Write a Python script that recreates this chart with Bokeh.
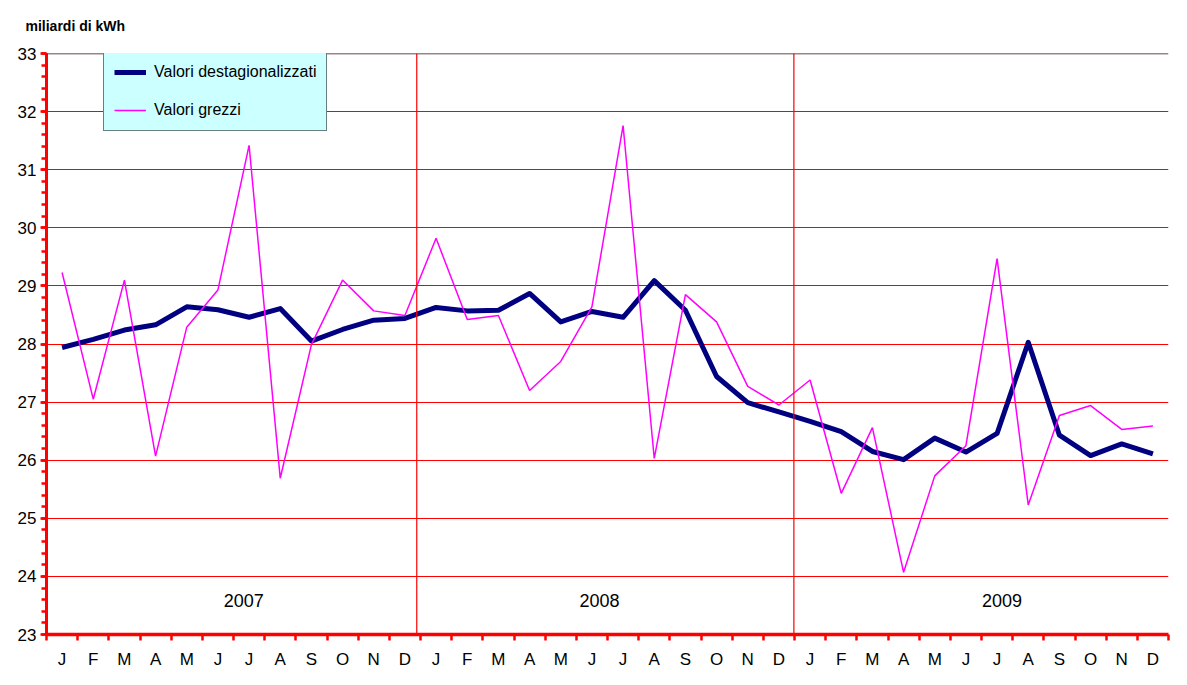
from bokeh.plotting import figure
from bokeh.models import (FixedTicker, SingleIntervalTicker, Span, Label, Legend,
                          LegendItem, Range1d, ColumnDataSource)
from bokeh.embed import file_html
from bokeh.resources import INLINE

# ---- data ----
months = ["J", "F", "M", "A", "M", "J", "J", "A", "S", "O", "N", "D"]
years = ["2007", "2008", "2009"]
destagionalizzati = [27.94, 28.08, 28.24, 28.33, 28.64, 28.59, 28.46, 28.61, 28.05, 28.25, 28.41, 28.44,
                     28.63, 28.57, 28.58, 28.87, 28.38, 28.56, 28.46, 29.09, 28.58, 27.44, 26.99, 26.83,
                     26.67, 26.49, 26.15, 26.01, 26.38, 26.14, 26.46, 28.03, 26.43, 26.08, 26.28, 26.11]
grezzi = [29.23, 27.05, 29.10, 26.07, 28.29, 28.93, 31.42, 25.69, 27.99, 29.10, 28.57, 28.49,
          29.82, 28.42, 28.49, 27.20, 27.70, 28.64, 31.76, 26.03, 28.85, 28.38, 27.27, 26.95,
          27.38, 25.43, 26.56, 24.07, 25.73, 26.25, 29.47, 25.23, 26.77, 26.94, 26.53, 26.59]
y_min, y_max = 23, 33

RED = "#FF0000"
FONT = "Liberation Sans"
FRAME_H = 581

n = len(destagionalizzati)
xs = [i + 0.5 for i in range(n)]
src = ColumnDataSource(dict(x=xs, d=destagionalizzati, g=grezzi))

p = figure(frame_width=1122, frame_height=FRAME_H, output_backend="svg", toolbar_location=None,
           x_range=Range1d(0, n), y_range=Range1d(y_min, y_max),
           min_border_left=46, min_border_right=3, min_border_top=52, min_border_bottom=30)
p.outline_line_color = None
p.background_fill_color = "white"
p.border_fill_color = "white"

# grid
p.xgrid.visible = False
p.ygrid.ticker = SingleIntervalTicker(interval=1)
p.ygrid.grid_line_color = RED
p.ygrid.grid_line_width = 1

# y axis
yax = p.yaxis[0]
yax.ticker = SingleIntervalTicker(interval=1, num_minor_ticks=5)
yax.axis_line_color = RED
yax.axis_line_width = 3
yax.major_tick_line_color = RED
yax.major_tick_line_width = 2.5
yax.major_tick_out = 6
yax.major_tick_in = 0
yax.minor_tick_line_color = RED
yax.minor_tick_line_width = 2.5
yax.minor_tick_out = 5
yax.minor_tick_in = 0
yax.major_label_text_font = FONT
yax.major_label_text_font_size = "17px"
yax.major_label_text_color = "black"
yax.major_label_standoff = 4

# x axis
xax = p.xaxis[0]
xax.ticker = FixedTicker(ticks=xs, minor_ticks=list(range(n + 1)))
xax.major_label_overrides = {xv: months[i % 12] for i, xv in enumerate(xs)}
xax.axis_line_color = RED
xax.axis_line_width = 3.5
xax.major_tick_line_color = None
xax.major_tick_out = 0
xax.major_tick_in = 0
xax.minor_tick_line_color = RED
xax.minor_tick_line_width = 2.5
xax.minor_tick_out = 6
xax.minor_tick_in = 0
xax.major_label_text_font = FONT
xax.major_label_text_font_size = "17px"
xax.major_label_text_color = "black"
xax.major_label_standoff = 9

# title (unit label)
p.title.text = "miliardi di kWh"
p.title.text_font = FONT
p.title.text_font_style = "bold"
p.title.text_font_size = "14px"
p.title.text_color = "black"
p.title.align = "left"
p.title.vertical_align = "top"
p.title.offset = -21
p.title.standoff = 35

# year separators and top border
p.add_layout(Span(location=11.88, dimension="height", line_color=RED, line_width=1.2))
p.add_layout(Span(location=23.98, dimension="height", line_color=RED, line_width=1.2))
p.add_layout(Span(location=y_max, dimension="width", line_color="#3c0a0a", line_width=1.5))

# year labels
year_pos = [6.33, 17.74, 30.66]
for yr, xp in zip(years, year_pos):
    p.add_layout(Label(x=xp, y=23.58, text=yr, text_align="center", text_baseline="middle",
                       text_font=FONT, text_font_size="18px", text_color="black"))

# series
r1 = p.line("x", "d", source=src, line_color="#000080", line_width=5, line_join="round")
r2 = p.line("x", "g", source=src, line_color="#FF00FF", line_width=1.5)

legend = Legend(items=[LegendItem(label="Valori destagionalizzati", renderers=[r1]),
                       LegendItem(label="Valori grezzi", renderers=[r2])],
                location=(57, FRAME_H - 78))
legend.background_fill_color = "#CCFFFF"
legend.background_fill_alpha = 1
legend.border_line_color = "black"
legend.border_line_width = 1
legend.label_text_font = FONT
legend.label_text_font_size = "16px"
legend.label_text_color = "black"
legend.glyph_width = 32
legend.glyph_height = 20
legend.label_height = 20
legend.label_width = 160
legend.spacing = 18
legend.padding = 10
legend.margin = 0
legend.label_standoff = 8
p.add_layout(legend)

open("out.html", "w").write(file_html(p, INLINE))
